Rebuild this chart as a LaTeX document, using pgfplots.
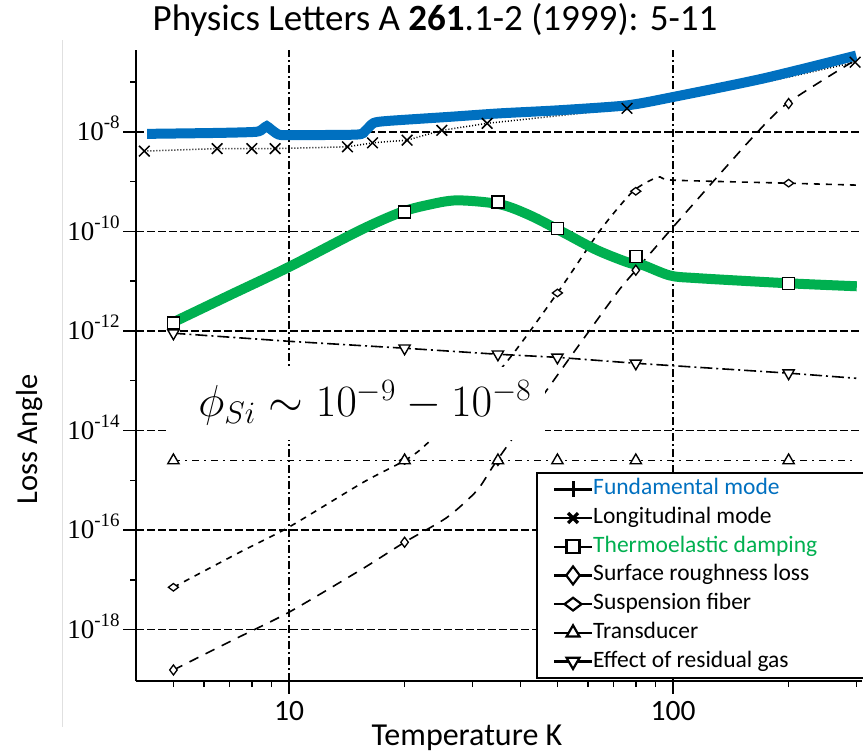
\documentclass[border=0pt]{standalone}
\usepackage{fontspec}
\setmainfont{Carlito}
\newfontfamily\serifnum{Liberation Serif}
\usepackage{pgfplots}
\pgfplotsset{compat=1.18}
\definecolor{fundblue}{RGB}{0,112,192}
\definecolor{thermgreen}{RGB}{0,176,80}
\newcommand{\ylab}[1]{{\serifnum\fontsize{27}{30}\selectfont 10\smash{\raisebox{12pt}{\fontsize{19}{20}\selectfont -#1}}}}
\begin{document}
\begin{tikzpicture}
\path[use as bounding box] (0,0) rectangle (863pt,755pt);
\draw[black!12, line width=1pt] (62pt,28pt) -- (62pt,715pt);
\begin{axis}[
  at={(136.2pt,74pt)}, anchor=south west,
  scale only axis, width=725.5pt, height=631pt,
  xmode=log, ymode=log,
  xmin=4, xmax=310, ymin=9.3e-20, ymax=4.4e-7,
  axis lines*=left,
  axis line style={line width=1.6pt},
  xtick={10,100}, xticklabels={10,100},
  minor xtick={5,6,7,8,9,20,30,40,50,60,70,80,90,200,300},
  ytick={1e-18,1e-16,1e-14,1e-12,1e-10,1e-8},
  yticklabels={\ylab{18},\ylab{16},\ylab{14},\ylab{12},\ylab{10},\ylab{8}},
  minor ytick={1e-17,1e-15,1e-13,1e-11,1e-9,1e-7},
  tick align=outside,
  major tick length=13pt, minor tick length=6pt,
  tick style={black, line width=1.4pt},
  xmajorgrids, ymajorgrids,
  major x grid style={black, line width=1.4pt, dash pattern=on 8pt off 3pt on 2pt off 3pt},
  major y grid style={black, line width=1.4pt, dash pattern=on 8pt off 3pt},
  xticklabel style={font=\fontsize{29.5}{34}\selectfont, yshift=-4pt},
  legend cell align=left,
  legend image code/.code={\draw[mark repeat=2,mark phase=2,#1] plot coordinates {(0pt,0pt) (19pt,0pt) (38pt,0pt)};},
  legend style={at={(axis description cs:0.5511,0.3312)}, anchor=north west,
    draw=black, line width=1.6pt, fill=white,
    font=\fontsize{23.5}{26}\selectfont,
    inner xsep=16pt, inner ysep=5pt, row sep=5.7pt,
    nodes={inner sep=0pt, text height=17pt, text depth=6pt},
    /tikz/every even column/.append style={column sep=6pt}},
]
% legend images
\addlegendimage{black, solid, line width=2.4pt, mark=+, mark size=8pt, mark options={line width=3pt}}
\addlegendentry{\textcolor{fundblue}{Fundamental mode}}
\addlegendimage{black, solid, line width=2.4pt, mark=x, mark size=7pt, mark options={line width=3.2pt}}
\addlegendentry{Longitudinal mode}
\addlegendimage{black, solid, line width=2.4pt, mark=square*, mark size=6.5pt, mark options={fill=white, line width=2.2pt}}
\addlegendentry{\textcolor{thermgreen}{Thermoelastic damping}}
\addlegendimage{black, solid, line width=2.4pt, mark=diamond*, mark size=9pt, mark options={fill=white, line width=2.2pt}}
\addlegendentry{Surface roughness loss}
\addlegendimage{black, solid, line width=2.4pt, mark=diamond*, mark size=8.5pt, mark options={fill=white, line width=2.2pt, rotate=90}}
\addlegendentry{Suspension fiber}
\addlegendimage{black, solid, line width=2.4pt, mark=triangle*, mark size=7.5pt, mark options={fill=white, line width=2.2pt}}
\addlegendentry{Transducer}
\addlegendimage{black, solid, line width=2.4pt, mark=triangle*, mark size=7.5pt, mark options={fill=white, line width=2.2pt, rotate=180}}
\addlegendentry{\makebox[290pt][l]{Effect of residual gas}}

% Longitudinal mode (dotted)
\addplot[black, line width=1.5pt, dash pattern=on 1pt off 2pt, forget plot] coordinates {
(4.2,4.1e-9) (6.5,4.6e-9) (8.0,4.6e-9) (9.2,4.6e-9) (14.2,5.0e-9) (16.5,6.0e-9) (20.3,6.8e-9) (25,1.07e-8) (32.8,1.48e-8) (75.9,2.96e-8) (100,4.3e-8) (182,1.07e-7) (298,2.5e-7)};
\addplot[only marks, black, mark=x, mark size=7.5pt, line width=1.5pt, forget plot] coordinates {
(4.2,4.1e-9) (6.5,4.6e-9) (8.0,4.6e-9) (9.2,4.6e-9) (14.2,5.0e-9) (16.5,6.0e-9) (20.3,6.8e-9) (25,1.07e-8) (32.8,1.48e-8) (75.9,2.96e-8) (298,2.5e-7)};

% Surface roughness loss
\addplot[black, line width=1.6pt, dash pattern=on 10pt off 8pt, smooth, tension=0.4, forget plot] coordinates {
(5,1.55e-19) (7.15,6.2e-19) (10,2.24e-18) (15.6,1.7e-17) (20,5.7e-17) (25.8,1.8e-16) (30.9,6.3e-16) (34.8,2.5e-15) (51.7,1.86e-13) (71.4,5.8e-12) (80,1.66e-11) (102.4,1.5e-10) (158.7,6.8e-9) (198,3.7e-8) (298,2.75e-7)};
\addplot[only marks, black, mark=diamond*, mark size=5pt, mark options={fill=white, line width=1.3pt}, forget plot] coordinates {
(5,1.55e-19) (20,5.7e-17) (35,2.5e-15) (80,1.66e-11) (200,3.7e-8)};

% Suspension fiber
\addplot[black, line width=1.6pt, dash pattern=on 6pt off 6pt, smooth, tension=0.4, forget plot] coordinates {
(5,7.1e-18) (7.45,3.6e-17) (10,1.15e-16) (15.6,9.1e-16) (20,2.5e-15) (22.9,5.5e-15) (35.9,1.86e-13) (50,5.8e-12) (64.6,1.05e-10) (78.7,6.4e-10) (91.4,1.23e-9) (100,1.07e-9) (198,9.3e-10) (301,8.5e-10)};
\addplot[only marks, black, mark=diamond*, mark size=5pt, mark options={fill=white, line width=1.3pt, rotate=90}, forget plot] coordinates {
(5,7.1e-18) (20,2.5e-15) (50,5.8e-12) (80,6.4e-10) (200,9.3e-10)};

% Transducer
\addplot[black, line width=1.6pt, dash pattern=on 7pt off 5pt on 2pt off 5pt, forget plot] coordinates {
(5,2.5e-15) (20,2.5e-15) (35,2.5e-15) (50,2.5e-15) (80,2.5e-15) (200,2.5e-15) (300,2.5e-15)};
\addplot[only marks, black, mark=triangle*, mark size=6.5pt, mark options={fill=white, line width=1.4pt}, forget plot] coordinates {
(5,2.5e-15) (20,2.5e-15) (35,2.5e-15) (50,2.5e-15) (80,2.5e-15) (200,2.5e-15)};

% Effect of residual gas
\addplot[black, line width=1.6pt, dash pattern=on 12pt off 4pt on 2pt off 4pt, forget plot] coordinates {
(5,9.0e-13) (10,6.2e-13) (20,4.5e-13) (35,3.4e-13) (50,2.95e-13) (80,2.24e-13) (200,1.42e-13) (300,1.12e-13)};
\addplot[only marks, black, mark=triangle*, mark size=6.5pt, mark options={fill=white, line width=1.4pt, rotate=180}, forget plot] coordinates {
(5,9.0e-13) (20,4.5e-13) (35,3.4e-13) (50,2.95e-13) (80,2.24e-13) (200,1.42e-13)};

% Thermoelastic squares (black)
\addplot[only marks, black, mark=square*, mark size=6pt, mark options={fill=white, line width=1.4pt}, forget plot] coordinates {
(5,1.45e-12) (20,2.45e-10) (35,3.9e-10) (50,1.15e-10) (80,3.1e-11) (200,9.1e-12)};

% Thermoelastic damping (green)
\addplot[thermgreen, line width=10pt, smooth, tension=0.5, forget plot] coordinates {
(5,1.5e-12) (7,5.2e-12) (10,1.93e-11) (15.3,1.05e-10) (19.5,2.4e-10) (23,3.4e-10) (27.4,4.2e-10) (35.4,3.5e-10) (42.4,2.1e-10) (51.7,9.6e-11) (63.4,4.2e-11) (77.3,2.3e-11) (83.5,2.1e-11) (98.2,1.3e-11) (115.5,1.15e-11) (198,9.1e-12) (301,7.9e-12)};

% Fundamental mode (blue)
\addplot[fundblue, line width=10pt, smooth, tension=0.4, forget plot] coordinates {
(4.27,9.1e-9) (6.5,9.5e-9) (8.2,1.0e-8) (8.55,1.15e-8) (8.75,1.3e-8) (9.0,1.1e-8) (9.4,8.8e-9) (10,8.6e-9) (15.0,8.8e-9) (15.8,1.05e-8) (16.6,1.5e-8) (18,1.65e-8) (26.2,2.0e-8) (35.4,2.35e-8) (50,2.7e-8) (75.9,3.4e-8) (100,5.0e-8) (171,1.17e-7) (300,3.4e-7)};
\end{axis}
% annotation box
\fill[white] (167pt,315pt) rectangle (545pt,388pt);
\node[anchor=base west, inner sep=0pt, scale=1.8, font=\fontsize{24}{28}\selectfont] at (198pt,338pt) {$\phi_{Si}\sim 10^{-9}-10^{-8}$};
% labels and title
\node[anchor=base, inner sep=0pt, font=\fontsize{32}{36}\selectfont] at (467pt,9pt) {Temperature K};
\node[anchor=base, rotate=90, inner sep=0pt, font=\fontsize{30.5}{34}\selectfont] at (37pt,315.5pt) {Loss Angle};
\node[anchor=base, inner sep=0pt, font=\fontsize{37}{42}\selectfont] at (435pt,724pt) {Physics Letters A \textbf{261}.1-2 (1999): 5-11};
\end{tikzpicture}
\end{document}
